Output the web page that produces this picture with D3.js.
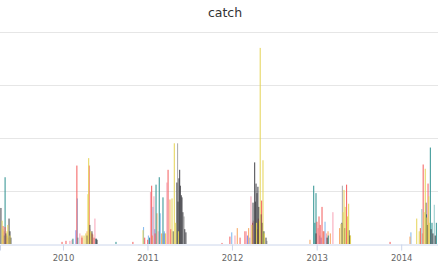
<!DOCTYPE html>
<html>
<head>
<meta charset="utf-8">
<script src="https://cdn.jsdelivr.net/npm/d3@7"></script>
<style>
  body { margin: 0; background: #fff; }
  svg { display: block; font-family: "DejaVu Sans", sans-serif; }
</style>
</head>
<body>
<div id="chart"></div>
<script>
// catch per day, one list per series: [date, value]
var blueCatch = [["2010-03-04",43],["2010-12-15",16],["2011-01-05",8],["2011-01-25",35],["2011-02-25",29],["2011-03-15",12],
                 ["2011-12-31",11],["2012-03-18",6],["2013-01-14",8],["2013-02-06",21],["2014-02-12",11]];
var blackCatch = [["2009-04-08",34],["2009-04-30",10],["2009-05-13",24],["2009-05-17",12],["2009-05-21",6],
                  ["2010-04-15",8],["2010-04-27",18],["2010-05-06",12],["2010-05-24",5],["2010-05-28",4],
                  ["2011-04-22",12],["2011-05-08",58],["2011-05-13",40],["2011-05-17",62],
                  ["2011-05-20",70],["2011-05-23",55],["2011-05-27",46],["2011-05-30",44],
                  ["2011-06-03",30],["2011-06-11",14],["2011-06-16",11],
                  ["2012-04-01",39],["2012-04-08",77],["2012-04-11",40],["2012-04-14",57],["2012-04-18",48],
                  ["2012-04-22",54],["2012-04-26",35],["2012-05-05",28],["2012-05-11",20],["2012-05-18",12],["2012-05-27",6],
                  ["2012-12-29",10],["2013-02-15",6],["2013-04-20",20],["2013-05-02",15],["2013-05-21",13],["2013-05-24",8],
                  ["2014-04-18",39],["2014-04-24",18],["2014-05-10",14],["2014-05-18",10],["2014-05-28",8]];
var grayCatch = [["2011-05-11",95],["2011-06-08",26],["2012-05-31",3],["2013-04-22",55]];
var orangeCatch = [["2009-05-08",6],["2010-03-24",8],["2010-04-15",12],["2010-05-10",9],
                   ["2011-01-22",8],["2011-02-11",29],["2011-03-03",10],["2011-04-08",42],
                   ["2012-01-24",15],["2012-03-13",15],["2012-04-20",14],
                   ["2012-12-03",4],["2013-01-29",12],["2013-02-19",12],["2013-03-01",10],["2013-04-10",15],
                   ["2014-02-08",7],["2014-04-02",10]];
var purpleCatch = [["2010-02-26",13],["2011-02-01",14],["2011-03-14",10],["2012-03-08",8],["2013-01-20",6]];
var pinkCatch = [["2009-04-22",12],["2010-01-31",3],["2010-02-09",4],["2010-03-15",10],["2010-04-27",14],["2010-05-19",24],
                 ["2011-01-14",49],["2011-01-29",45],["2011-02-16",12],["2011-03-26",58],
                 ["2012-01-14",8],["2012-03-03",12],["2012-03-23",45],["2012-04-02",22],
                 ["2013-01-07",15],["2013-02-12",10],["2013-03-12",30]];
var yellowCatch = [["2009-04-13",22],["2009-04-17",14],["2009-05-04",12],["2009-05-08",18],["2009-05-17",8],
                   ["2010-04-02",8],["2010-04-10",10],["2010-04-19",47],["2010-04-22",81],["2010-05-01",12],
                   ["2010-12-13",13],["2011-03-20",10],["2011-04-17",43],["2011-04-27",95],["2011-05-03",20],["2011-05-15",12],
                   ["2012-03-27",18],["2012-04-16",20],["2012-04-29",22],["2012-05-02",185],["2012-05-14",79],["2012-05-20",10],
                   ["2013-04-16",19],["2013-04-25",30],["2013-04-29",51],["2013-05-04",35],["2013-05-14",26],["2013-05-19",38],["2013-05-27",8],
                   ["2014-03-09",24],["2014-03-20",12],["2014-04-10",30],["2014-04-15",71],["2014-04-22",25],["2014-04-30",45],["2014-05-02",20]];
var tealCatch = [["2009-04-22",8],["2009-04-26",63],["2010-02-13",5],["2010-03-06",6],["2010-05-24",5],["2010-08-18",2],
                 ["2011-01-10",6],["2011-02-07",56],["2011-02-21",63],["2011-03-09",44],["2012-05-16",12],
                 ["2012-12-19",55],["2012-12-24",20],["2012-12-29",48],["2013-02-20",8],
                 ["2014-04-20",28],["2014-05-07",91],["2014-05-14",20],["2014-06-02",20]];
var redCatch = [["2009-04-17",17],["2009-04-26",16],["2009-05-04",8],
                ["2009-12-28",2],["2010-01-14",3],["2010-03-02",74],["2010-03-24",6],["2010-04-24",74],["2010-05-06",10],["2010-05-15",6],["2010-10-30",2],
                ["2010-12-20",6],["2011-01-02",4],["2011-01-19",55],["2011-02-03",10],["2011-03-31",70],["2011-04-12",14],
                ["2011-11-19",1],["2011-12-23",7],["2012-02-05",6],["2012-02-26",12],["2012-03-30",20],["2012-04-24",24],["2012-05-08",41],
                ["2013-01-02",21],["2013-01-11",26],["2013-01-16",18],["2013-01-24",35],["2013-02-01",12],["2013-05-10",56],
                ["2013-11-14",2],["2014-03-25",15],["2014-04-06",75],["2014-04-27",57]];
var lightTealCatch = [["2014-03-31",33],["2014-05-24",37]];

var yTicks = [50, 100, 150, 200];
var xTicks = ["2010-01-01", "2011-01-01", "2012-01-01", "2013-01-01", "2014-01-01"];

var series = [
    {name: "blue", data: blueCatch, color: "#7cb5ec"},
    {name: "orange", data: orangeCatch, color: "#f7a35c"},
    {name: "purple", data: purpleCatch, color: "#8085e9"},
    {name: "pink", data: pinkCatch, color: "#f7a1b5"},
    {name: "teal", data: tealCatch, color: "#2b908f"},
    {name: "lightteal", data: lightTealCatch, color: "#91c8c8"},
    {name: "red", data: redCatch, color: "#f45b5b"},
    {name: "gray", data: grayCatch, color: "#a8a8a8"},
    {name: "black", data: blackCatch, color: "#434348"},
    {name: "yellow", data: yellowCatch, color: "#e4d354"}
];

var w = 438;
var h = 280;
var base = 244;

var parse = d3.timeParse("%Y-%m-%d");

var xscale = d3.scaleTime()
                .domain([parse("2009-04-04"), parse("2014-06-09")])
                .range([0, w]);

var yscale = d3.scaleLinear()
                .domain([0, 200])
                .range([base, 32]);

var svg = d3.select("#chart")
            .append("svg")
            .attr("width", w)
            .attr("height", h);

svg.append("text")
    .attr("x", 225)
    .attr("y", 17)
    .attr("text-anchor", "middle")
    .attr("font-size", 12.5)
    .attr("fill", "#333")
    .text("catch");

// horizontal grid
svg.append("g")
    .selectAll("line")
    .data(yTicks)
    .enter()
    .append("line")
    .attr("x1", 0)
    .attr("x2", w)
    .attr("y1", function(d) { return Math.round(yscale(d)) + 0.5; })
    .attr("y2", function(d) { return Math.round(yscale(d)) + 0.5; })
    .attr("stroke", "#e6e6e6");

// bars
series.forEach(function(s) {
    svg.append("g")
        .attr("class", "series " + s.name)
        .selectAll("rect")
        .data(s.data)
        .enter()
        .append("rect")
        .attr("x", function(d) { return xscale(parse(d[0])) - 0.55; })
        .attr("y", function(d) { return yscale(d[1]); })
        .attr("width", 1.1)
        .attr("height", function(d) { return base - yscale(d[1]); })
        .attr("fill", s.color)
        .attr("fill-opacity", 0.9);
});

// x axis
var xaxis = d3.axisBottom(xscale)
                .tickValues(xTicks.map(parse))
                .tickFormat(d3.timeFormat("%Y"))
                .tickSize(6)
                .tickPadding(4);

var gx = svg.append("g")
    .attr("class", "x axis")
    .attr("transform", "translate(0," + (base + 0.5) + ")")
    .call(xaxis);

gx.select(".domain").attr("stroke", "#ccd6eb");
gx.selectAll(".tick line").attr("stroke", "#ccd6eb");
gx.selectAll(".tick text")
    .attr("fill", "#666")
    .attr("font-size", 8.5)
    .attr("font-family", "DejaVu Sans, sans-serif");
</script>
</body>
</html>
